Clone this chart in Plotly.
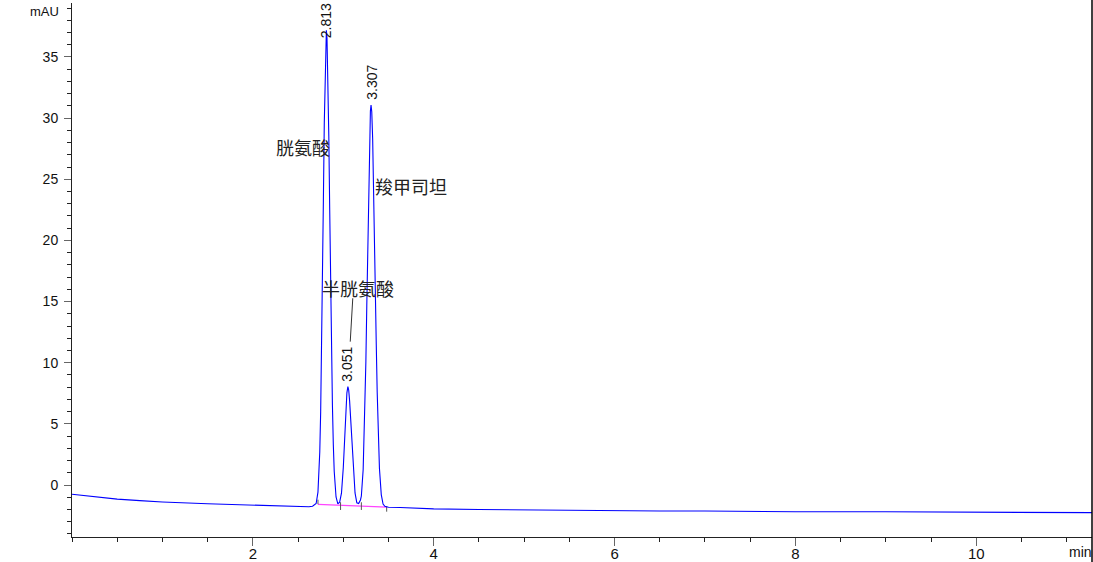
import plotly.graph_objects as go

# ---- chromatogram signal ----
time_min = [0.0, 0.25, 0.5, 0.75, 1.0, 1.5, 2.0, 2.3, 2.55, 2.62, 2.66, 2.69,
            2.70, 2.72, 2.74, 2.75, 2.76, 2.77, 2.78, 2.79, 2.80, 2.807, 2.813,
            2.82, 2.83, 2.84, 2.85, 2.86, 2.87, 2.88, 2.89, 2.90, 2.92, 2.94, 2.96,
            2.98, 3.00, 3.01, 3.02, 3.03, 3.04, 3.051, 3.06, 3.07, 3.08, 3.09, 3.10,
            3.11, 3.13, 3.15, 3.17, 3.19,
            3.20, 3.22, 3.24, 3.25, 3.26, 3.27, 3.28, 3.29, 3.30, 3.307, 3.315,
            3.325, 3.335, 3.345, 3.355, 3.365, 3.375, 3.385, 3.40, 3.42, 3.44, 3.46,
            3.50, 3.63, 4.0, 4.5, 5.0, 5.5, 6.0, 6.5, 7.0, 7.5, 8.0, 9.0, 10.0, 11.28]
absorbance_mAU = [-0.76, -0.98, -1.15, -1.28, -1.39, -1.53, -1.66, -1.71, -1.76, -1.78, -1.74, -1.55,
                  -1.51, -0.58, 2.70, 5.98, 10.64, 16.56, 23.23, 29.63, 34.58, 36.61, 37.18,
                  36.52, 33.48, 28.51, 22.50, 16.38, 10.91, 6.51, 3.27, 1.11, -0.98, -1.55, -1.40,
                  -0.67, 1.41, 2.97, 4.70, 6.33, 7.54, 8.04, 7.77, 6.88, 5.56, 4.02, 2.50,
                  1.16, -0.65, -1.45, -1.52, -1.22,
                  -0.90, 1.27, 6.27, 10.10, 14.67, 19.62, 24.37, 28.23, 30.57, 31.07, 30.51,
                  28.31, 24.79, 20.45, 15.82, 11.43, 7.60, 4.53, 1.35, -0.78, -1.55, -1.74,
                  -1.82, -1.84, -1.95, -2.00, -2.04, -2.07, -2.10, -2.12, -2.13, -2.16, -2.18, -2.19, -2.23, -2.26]

# peaks
peak_rt_labels = ["2.813", "3.051", "3.307"]
compound_names = ["胱氨酸", "半胱氨酸", "羧甲司坦"]

# integration baseline (magenta) and peak-boundary markers
int_base_t = [2.72, 3.48]
int_base_v = [-1.58, -1.80]
marker_t = [2.72, 2.97, 3.20, 3.48]
marker_top = [-1.20, -1.41, -1.41, -1.77]
marker_bot = [-1.57, -2.04, -2.04, -2.18]

x_ticks = [2, 4, 6, 8, 10]
y_ticks = [0, 5, 10, 15, 20, 25, 30, 35]

fig = go.Figure()

fig.add_trace(go.Scatter(x=int_base_t, y=int_base_v, mode="lines",
                         line=dict(color="#ff44ff", width=1.2), hoverinfo="skip"))

mx, my = [], []
for t, a, b in zip(marker_t, marker_top, marker_bot):
    mx += [t, t, None]
    my += [a, b, None]
fig.add_trace(go.Scatter(x=mx, y=my, mode="lines",
                         line=dict(color="#555555", width=1), hoverinfo="skip"))

fig.add_trace(go.Scatter(x=time_min, y=absorbance_mAU, mode="lines",
                         line=dict(color="#0000ff", width=1.1)))

num_font = dict(family="Liberation Sans, Arial, sans-serif", size=14, color="#111111")
cjk_font = dict(family="Noto Sans CJK SC, sans-serif", size=18, color="#222222")

annotations = [
    dict(x=2.811, y=37.94, text=peak_rt_labels[0], textangle=-90),
    dict(x=3.041, y=9.91, text=peak_rt_labels[1], textangle=-90),
    dict(x=3.309, y=32.91, text=peak_rt_labels[2], textangle=-90),
]
annotations = [dict(a, xref="x", yref="y", showarrow=False, font=num_font,
                    xanchor="center", yanchor="middle") for a in annotations]
for name, (x, y) in zip(compound_names, [(2.553, 27.6), (3.166, 16.08), (3.747, 24.46)]):
    annotations.append(dict(x=x, y=y, xref="x", yref="y", text=name, showarrow=False,
                            font=cjk_font, xanchor="center", yanchor="middle"))
annotations.append(dict(x=-0.0272, y=0.984, xref="paper", yref="paper", text="mAU",
                        showarrow=False, font=dict(family="Liberation Sans, Arial", size=13, color="#111"),
                        xanchor="center", yanchor="middle"))
annotations.append(dict(x=0.989, y=-0.028, xref="paper", yref="paper", text="min",
                        showarrow=False, font=dict(family="Liberation Sans, Arial", size=14, color="#111"),
                        xanchor="center", yanchor="middle"))

shapes = [
    dict(type="line", xref="x", yref="y", x0=3.077, y0=11.72, x1=3.105, y1=15.27,
         line=dict(color="#333333", width=1)),
    dict(type="line", xref="paper", yref="paper", x0=1.0, x1=1.0, y0=-0.05, y1=1.01,
         line=dict(color="#000000", width=1.5)),
]

fig.update_layout(
    width=1093, height=562,
    margin=dict(l=72, r=1, t=3, b=25, autoexpand=False),
    paper_bgcolor="white", plot_bgcolor="white",
    showlegend=False,
    annotations=annotations,
    shapes=shapes,
    xaxis=dict(range=[0, 11.28], tickvals=x_ticks, ticks="outside", ticklen=8,
               tickcolor="#666666", tickwidth=1.2, showline=True, linecolor="#222222",
               linewidth=1, showgrid=False, zeroline=False, automargin=False,
               ticklabelstandoff=-5,
               tickfont=dict(family="Liberation Sans, Arial", size=15, color="#111"),
               minor=dict(dtick=0.5, tick0=0, ticks="outside", ticklen=4,
                          tickcolor="#222222", showgrid=False)),
    yaxis=dict(range=[-4.25, 39.41], tickvals=y_ticks, ticks="outside", ticklen=7,
               tickcolor="#666666", tickwidth=1.2, showline=True, linecolor="#222222",
               linewidth=1, showgrid=False, zeroline=False, automargin=False,
               ticklabelstandoff=3,
               tickfont=dict(family="Liberation Sans, Arial", size=14, color="#111"),
               minor=dict(dtick=1, tick0=0, ticks="outside", ticklen=4,
                          tickcolor="#222222", showgrid=False)),
)

fig.write_html("out.html", config={"displayModeBar": False},
               post_script="document.body.style.margin='0';document.body.style.overflow='hidden';")
